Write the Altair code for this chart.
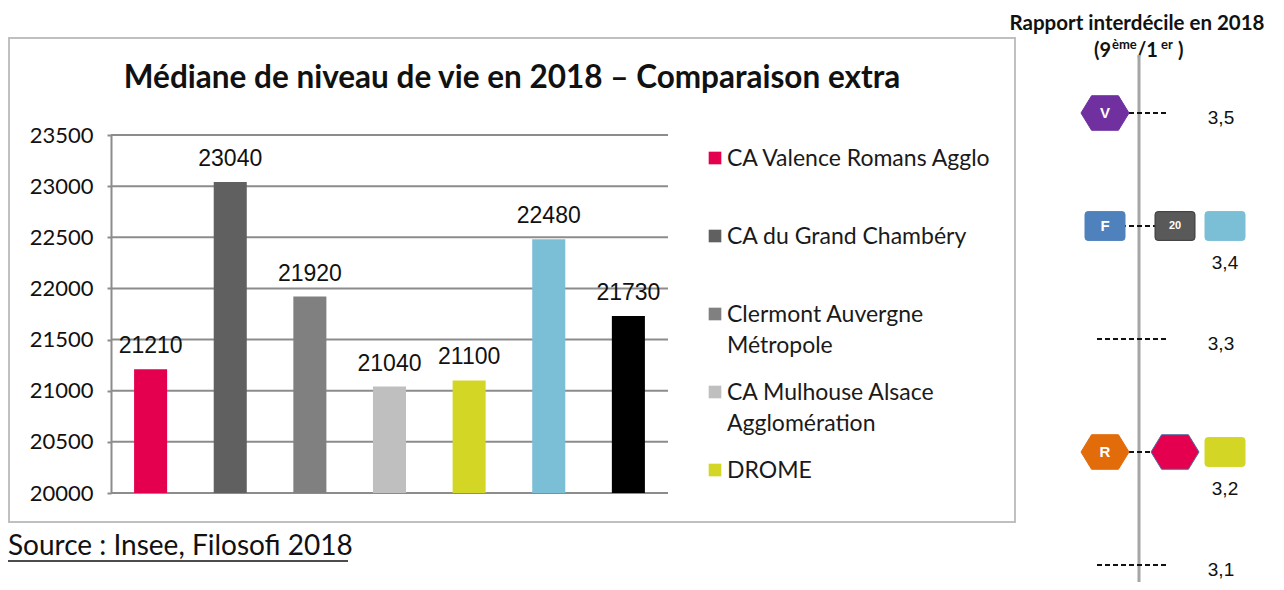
import altair as alt
import pandas as pd

# ---------------- data ----------------
categories = ["CA Valence Romans Agglo", "CA du Grand Chambéry", "Clermont Auvergne Métropole",
              "CA Mulhouse Alsace Agglomération", "DROME", "Territoire 6", "Territoire 7"]
values = [21210, 23040, 21920, 21040, 21100, 22480, 21730]
bar_colors = ["#e4004f", "#606060", "#808080", "#bfbfbf", "#d4d626", "#7bbfd6", "#000000"]
y_ticks = [20000, 20500, 21000, 21500, 22000, 22500, 23000, 23500]

legend_labels = ["CA Valence Romans Agglo", "CA du Grand Chambéry", "Clermont Auvergne\nMétropole",
                 "CA Mulhouse Alsace\nAgglomération", "DROME"]
legend_colors = bar_colors[:5]

rapport_ticks = [3.5, 3.4, 3.3, 3.2, 3.1]
rapport_tick_labels = ["3,5", "3,4", "3,3", "3,2", "3,1"]

marker_keys = ["V", "F", "20", "B", "R", "C", "D"]
marker_rapport = [3.5, 3.4, 3.4, 3.4, 3.2, 3.2, 3.2]
marker_rank = [0, 0, 1, 2, 0, 1, 2]
marker_shape = ["hex", "box", "box", "box", "hex", "hex", "box"]
marker_text = ["V", "F", "20", "", "R", "", ""]
marker_colors = ["#7030a0", "#4f81bd", "#595959", "#7bbfd6", "#e36c0a", "#e4004f", "#d4d626"]
marker_strokes = ["#7030a0", "#4f81bd", "#3a3a3a", "#7bbfd6", "#e36c0a", "#4a6fa5", "#d4d626"]

title_text = "Médiane de niveau de vie en 2018 – Comparaison extra"
source_text = "Source : Insee, Filosofi 2018"
right_title = "Rapport interdécile en 2018"

# ---------------- frames ----------------
bars_df = pd.DataFrame({"cat": categories, "val": values})
grid_df = pd.DataFrame({"t": y_ticks})
legend_df = pd.DataFrame({"lab": legend_labels})
# a tick label drops below the markers when a marker sits in the label column (last rank)
far_right = {r for r, k in zip(marker_rapport, marker_rank) if k == max(marker_rank)}
rt_df = pd.DataFrame({"r": rapport_ticks, "lab": rapport_tick_labels,
                      "under": [r in far_right for r in rapport_ticks]})
mk_df = pd.DataFrame({"key": marker_keys, "r": marker_rapport, "rank": marker_rank,
                      "shape": marker_shape, "txt": marker_text})
one = pd.DataFrame({"a": [0]})

# ---------------- scales ----------------
x_bar_scale = alt.Scale(domain=categories, range=[103, 660], paddingInner=0.585, paddingOuter=0.29)
y_bar_scale = alt.Scale(domain=[20000, 23500], range=[485, 127], zero=False, nice=False)
y_axis = alt.Axis(offset=-103, values=y_ticks, format="d", labelFont="Lato", labelFontSize=22,
                  labelColor="#111111", tickSize=4, tickColor="#8c8c8c", tickWidth=2,
                  domainColor="#8c8c8c", domainWidth=2, labelPadding=14, grid=False, title=None)

r_scale = alt.Scale(domain=[3.1, 3.5], range=[557, 105], zero=False, nice=False)
rank_scale = alt.Scale(domain=[0, 1, 2], range=[1097, 1167, 1217], zero=False, nice=False)

hex_path = "M-1,0L-0.56,-0.72L0.56,-0.72L1,0L0.56,0.72L-0.56,0.72Z"
box_path = ("M-0.85,-0.72L0.85,-0.72Q1,-0.72 1,-0.57L1,0.57Q1,0.72 0.85,0.72"
            "L-0.85,0.72Q-1,0.72 -1,0.57L-1,-0.57Q-1,-0.72 -0.85,-0.72Z")

txt = "#111111"

# ---------------- left chart ----------------
border = alt.Chart(one).mark_rect(fillOpacity=0, stroke="#c0c0c0", strokeWidth=2).encode(
    x=alt.value(1), x2=alt.value(1007), y=alt.value(30), y2=alt.value(514))

title = alt.Chart(one).mark_text(text=title_text, font="Lato", fontWeight="bold", fontSize=31.5,
                                 align="center", baseline="alphabetic", color=txt).encode(
    x=alt.value(504), y=alt.value(80))

grid = alt.Chart(grid_df).mark_rule(color="#8c8c8c", strokeWidth=2).encode(
    y=alt.Y("t:Q", scale=y_bar_scale, axis=y_axis), x=alt.value(103), x2=alt.value(660))

bars = alt.Chart(bars_df).mark_bar().encode(
    x=alt.X("cat:N", scale=x_bar_scale, sort=categories, axis=None),
    y=alt.Y("val:Q", scale=y_bar_scale, axis=y_axis),
    y2=alt.datum(20000),
    color=alt.Color("cat:N", scale=alt.Scale(domain=categories, range=bar_colors), legend=None))

bar_labels = alt.Chart(bars_df).mark_text(font="Liberation Sans", fontSize=23, baseline="alphabetic",
                                          dy=-16, color=txt).encode(
    x=alt.X("cat:N", scale=x_bar_scale, sort=categories, axis=None),
    y=alt.Y("val:Q", scale=y_bar_scale, axis=y_axis),
    text=alt.Text("val:Q", format="d"))

bar_layer = alt.layer(grid, bars, bar_labels)

leg_y = alt.Y("lab:N", scale=alt.Scale(type="point", domain=legend_labels, range=[150, 462], padding=0),
              axis=None)
leg_sq = alt.Chart(legend_df).mark_square(size=160, opacity=1).encode(
    y=leg_y, x=alt.value(707),
    color=alt.Color("lab:N", scale=alt.Scale(domain=legend_labels, range=legend_colors), legend=None))
leg_txt = alt.Chart(legend_df).mark_text(align="left", baseline="top", dy=-10, font="Lato", fontSize=23,
                                         lineBreak="\n", lineHeight=31, color="#1a1a1a").encode(
    y=leg_y, x=alt.value(719), text="lab:N")

source = alt.Chart(one).mark_text(text=source_text, font="Lato", fontSize=28, align="left",
                                  baseline="alphabetic", color=txt).encode(
    x=alt.value(0), y=alt.value(547))
underline = alt.Chart(one).mark_rule(color=txt, strokeWidth=1.5).encode(
    x=alt.value(0), x2=alt.value(340), y=alt.value(553))

# ---------------- right infographic ----------------
r_title = alt.Chart(one).mark_text(text=right_title, font="Lato", fontWeight="bold", fontSize=20.5,
                                   align="center", baseline="alphabetic", color=txt).encode(
    x=alt.value(1129), y=alt.value(22))


def piece(s, x, y, size):
    return alt.Chart(one).mark_text(text=s, font="Lato", fontWeight="bold", fontSize=size,
                                    align="left", baseline="alphabetic", color=txt).encode(
        x=alt.value(x), y=alt.value(y))


sub = [piece("(9", 1086, 49, 20), piece("ème", 1104, 41, 13), piece("/1", 1129, 49, 20),
       piece("er", 1153, 41, 13), piece(")", 1170, 49, 20)]

vline = alt.Chart(one).mark_rule(color="#a6a6a6", strokeWidth=3).encode(
    x=alt.value(1131), y=alt.value(47), y2=alt.value(574))

dashes = alt.Chart(rt_df).mark_rule(color=txt, strokeWidth=2, strokeDash=[5, 3]).encode(
    y=alt.Y("r:Q", scale=r_scale, axis=None), x=alt.value(1089), x2=alt.value(1160))
tick_labels_near = alt.Chart(rt_df).transform_filter("!datum.under").mark_text(
    font="Liberation Sans", fontSize=19, align="center", baseline="middle", dy=5, color=txt).encode(
    y=alt.Y("r:Q", scale=r_scale, axis=None), x=alt.value(1213), text="lab:N")
tick_labels_under = alt.Chart(rt_df).transform_filter("datum.under").mark_text(
    font="Liberation Sans", fontSize=19, align="center", baseline="middle", dy=37, color=txt).encode(
    y=alt.Y("r:Q", scale=r_scale, axis=None), x=alt.value(1217), text="lab:N")

markers = alt.Chart(mk_df).mark_point(filled=True, opacity=1, strokeWidth=1).encode(
    x=alt.X("rank:Q", scale=rank_scale, axis=None),
    y=alt.Y("r:Q", scale=r_scale, axis=None),
    shape=alt.Shape("shape:N", scale=alt.Scale(domain=["hex", "box"], range=[hex_path, box_path]), legend=None),
    size=alt.Size("shape:O", scale=alt.Scale(domain=["hex", "box"], range=[2304, 1600]), legend=None),
    color=alt.Color("key:N", scale=alt.Scale(domain=marker_keys, range=marker_colors), legend=None),
    stroke=alt.Stroke("key:N", scale=alt.Scale(domain=marker_keys, range=marker_strokes), legend=None))
marker_labels = alt.Chart(mk_df).mark_text(color="white", font="Liberation Sans", fontWeight="bold",
                                           baseline="middle", align="center").encode(
    x=alt.X("rank:Q", scale=rank_scale, axis=None),
    y=alt.Y("r:Q", scale=r_scale, axis=None),
    text="txt:N",
    size=alt.condition("length(datum.txt) > 1", alt.value(11), alt.value(15)))

right_layer = alt.layer(dashes, tick_labels_near, tick_labels_under, markers, marker_labels)

chart = alt.layer(
    border, title, bar_layer, leg_sq, leg_txt, source, underline,
    r_title, *sub, vline, right_layer
).resolve_scale(
    x="independent", y="independent", color="independent", shape="independent",
    size="independent", stroke="independent"
).properties(
    width=1268, height=574, padding=0, autosize=alt.AutoSizeParams(type="none")
).configure_view(stroke=None)

chart.save("out.html", embed_options={"renderer": "svg", "actions": False})
